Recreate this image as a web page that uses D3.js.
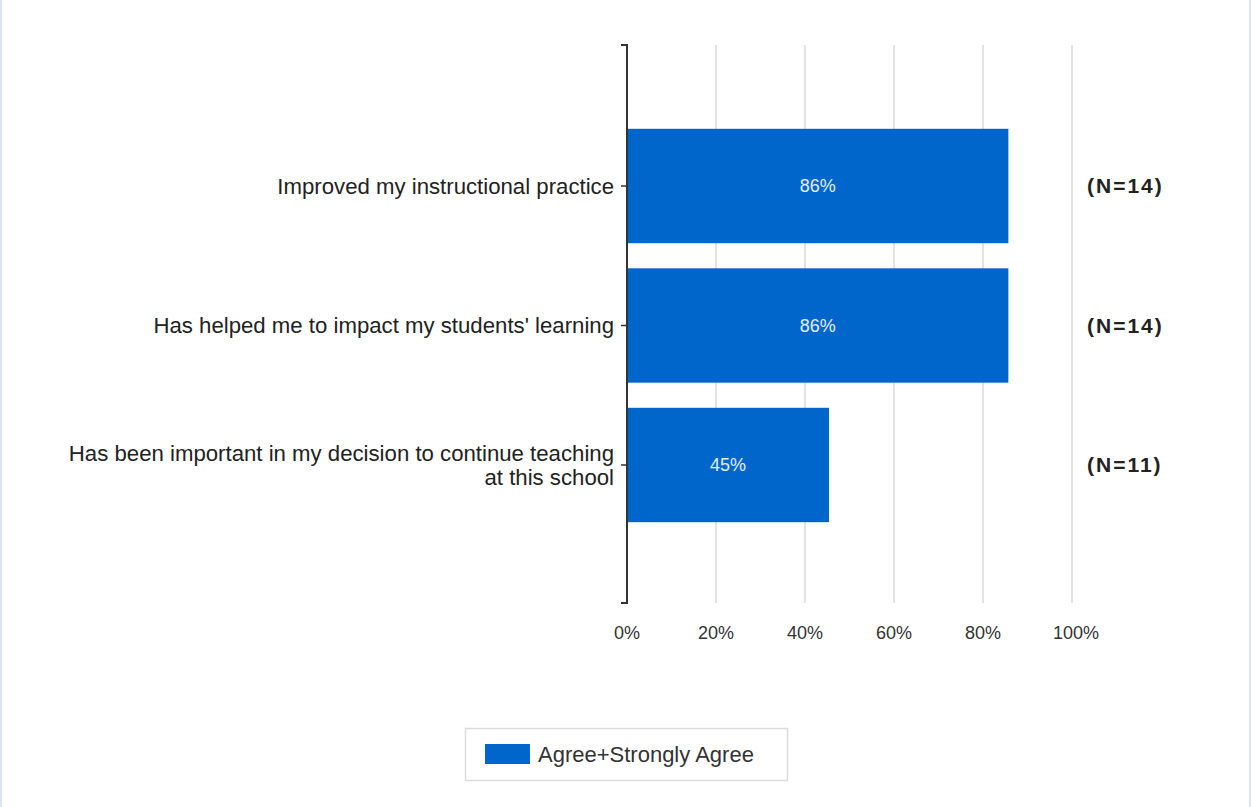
<!DOCTYPE html>
<html><head><meta charset="utf-8">
<script src="https://cdn.jsdelivr.net/npm/d3@7"></script>
<style>
html,body{margin:0;padding:0;background:#fff;}
svg{display:block;}
</style></head>
<body>
<script>
const categories = [
  ["Improved my instructional practice"],
  ["Has helped me to impact my students' learning"],
  ["Has been important in my decision to continue teaching", "at this school"]
];
const values = [85.7, 85.7, 45.4];
const nLabels = ["(N=14)", "(N=14)", "(N=11)"];
const xTicks = [0, 20, 40, 60, 80, 100];
const seriesName = "Agree+Strongly Agree";

const W = 1251, H = 807;
const FONT = "'Liberation Sans', Arial, sans-serif";
const svg = d3.select("body").append("svg").attr("width", W).attr("height", H);

// outer frame borders
svg.append("rect").attr("x", 0).attr("y", 0).attr("width", 2).attr("height", H).attr("fill", "#dde3f0");
svg.append("rect").attr("x", W - 2).attr("y", 0).attr("width", 2).attr("height", H).attr("fill", "#dde3f0");

const x0 = 627, x1 = 1072, yTop = 45, yBot = 603;
const x = d3.scaleLinear().domain([0, 100]).range([x0, x1]);
const ids = categories.map((c, i) => i);
const y = d3.scalePoint().domain(ids).range([yTop + 1.5, yBot + 1.5]).padding(1);
const bandH = y.step() * 0.82;

// gridlines
svg.append("g").selectAll("line").data(xTicks.filter(t => t > 0)).join("line")
  .attr("x1", d => x(d)).attr("x2", d => x(d))
  .attr("y1", yTop).attr("y2", yBot)
  .attr("stroke", "#d9d9d9").attr("stroke-width", 1.5);

// bars
svg.append("g").selectAll("rect").data(values).join("rect")
  .attr("x", x(0)).attr("y", (d, i) => y(i) - bandH / 2)
  .attr("width", d => x(d) - x(0)).attr("height", bandH)
  .attr("fill", "#0066cc");

// bar value labels
svg.append("g").selectAll("text").data(values).join("text")
  .attr("x", d => (x(0) + x(d)) / 2).attr("y", (d, i) => y(i))
  .attr("dy", "0.35em").attr("text-anchor", "middle")
  .attr("fill", "#e6eeff").style("font", `18px ${FONT}`)
  .text(d => d3.format(".0f")(d) + "%");

// y axis line
svg.append("path")
  .attr("d", `M${x0 - 6},${yTop}H${x0}V${yBot}H${x0 - 6}`)
  .attr("fill", "none").attr("stroke", "#333").attr("stroke-width", 2);
// category ticks
svg.append("g").selectAll("line").data(ids).join("line")
  .attr("x1", x0 - 6).attr("x2", x0).attr("y1", d => y(d)).attr("y2", d => y(d))
  .attr("stroke", "#333").attr("stroke-width", 1.5);

// category labels
const cl = svg.append("g").selectAll("text").data(categories).join("text")
  .attr("x", x0 - 13).attr("y", (d, i) => y(i) - (d.length - 1) * 12)
  .attr("text-anchor", "end").attr("fill", "#222")
  .style("font", `22.2px ${FONT}`);
cl.selectAll("tspan").data(d => d).join("tspan")
  .attr("x", x0 - 13).attr("dy", (d, j) => j === 0 ? "0.35em" : "24px")
  .text(d => d);

// N labels
svg.append("g").selectAll("text").data(nLabels).join("text")
  .attr("x", 1087).attr("y", (d, i) => y(i)).attr("dy", "0.35em")
  .attr("fill", "#222").style("font", `bold 21px ${FONT}`)
  .style("letter-spacing", "2px")
  .text(d => d);

// x tick labels
svg.append("g").selectAll("text").data(xTicks).join("text")
  .attr("x", d => x(d) + (d === 100 ? 4 : 0)).attr("y", 633).attr("dy", "0.35em")
  .attr("text-anchor", "middle").attr("fill", "#333")
  .style("font", `18px ${FONT}`)
  .text(d => d + "%");

// legend
const lg = svg.append("g");
lg.append("rect").attr("x", 465.5).attr("y", 728.5).attr("width", 322).attr("height", 52)
  .attr("fill", "#fff").attr("stroke", "#dcdcdc").attr("stroke-width", 1.5);
lg.append("rect").attr("x", 485).attr("y", 744).attr("width", 45).attr("height", 20).attr("fill", "#0066cc");
lg.append("text").attr("x", 538).attr("y", 754).attr("dy", "0.35em")
  .attr("fill", "#333").style("font", `22px ${FONT}`).text(seriesName);
</script>
</body></html>
